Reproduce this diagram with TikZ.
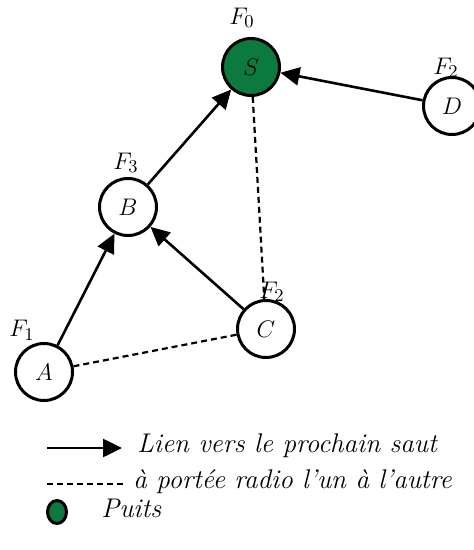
\documentclass[tikz,border=0pt]{standalone}
\usetikzlibrary{arrows.meta,shapes.geometric}
\definecolor{sinkgreen}{RGB}{12,122,62}
\begin{document}
\begin{tikzpicture}[x=0.5pt,y=-0.5pt,
  nd/.style={circle,draw,line width=1.5pt,minimum size=28.5pt,inner sep=0pt,font=\fontsize{13}{15}\selectfont\itshape},
  lbl/.style={font=\fontsize{13}{15}\selectfont},
  hop/.style={line width=1.3pt,-{Triangle[length=9.5pt,width=9pt]}},
  rng/.style={line width=1.1pt,dash pattern=on 3pt off 2pt},
  legtxt/.style={anchor=west,inner sep=0pt,font=\fontsize{13.5}{16}\selectfont\itshape}]
\useasboundingbox (0,0) rectangle (474,550);
\node[nd,fill=sinkgreen] (S) at (251,67) {$S$};
\node[nd] (D) at (452,106) {$D$};
\node[nd] (B) at (128,207) {$B$};
\node[nd] (C) at (266,329) {$C$};
\node[nd] (A) at (44,372) {$A$};
\node[lbl] (lS) at (242,18) {$F_0$};
\node[lbl] (lD) at (446,68) {$F_2$};
\node[lbl] (lB) at (126,163) {$F_3$};
\node[lbl] (lC) at (272,292) {$F_2$};
\node[lbl] (lA) at (22,330) {$F_1$};
\draw[rng] (S) -- (C);
\draw[rng] (A) -- (C);
\draw[hop] (A) -- (B);
\draw[hop] (B) -- (S);
\draw[hop] (C) -- (B);
\draw[hop] (D) -- (S);
% legend
\coordinate (h1) at (47,448);
\coordinate (h2) at (122,448);
\draw[hop] (h1) -- (h2);
\node[legtxt] (t1) at (137,446) {Lien vers le prochain saut};
\coordinate (r1) at (47,484);
\coordinate (r2) at (126,484);
\draw[rng] (r1) -- (r2);
\node[legtxt] (t2) at (133,482) {à portée radio l'un à l'autre};
\node[ellipse,draw,line width=1.5pt,fill=sinkgreen,minimum width=9.5pt,minimum height=11.5pt,inner sep=0pt] (g) at (57,512) {};
\node[legtxt] (t3) at (101,508) {Puits};
\end{tikzpicture}
\end{document}
